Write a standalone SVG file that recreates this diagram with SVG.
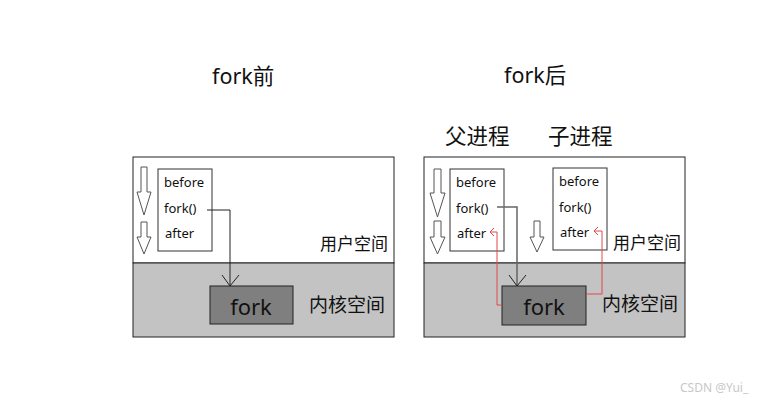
<svg xmlns="http://www.w3.org/2000/svg" width="766" height="401" viewBox="0 0 766 401">
<style>
.t{font-family:"Noto Sans","Noto Sans CJK SC",sans-serif;fill:#111}
.code{font-size:13px}
.lbl{font-size:17px}
.klbl{font-size:19px}
.title{font-size:21.5px}
.fkt{font-size:22px}
.panel{fill:#fff;stroke:#222;stroke-width:1}
.kern{fill:#c3c3c3;stroke:#222;stroke-width:1}
.box{fill:#fff;stroke:#333;stroke-width:1}
.fk{fill:#7f7f7f;stroke:#222;stroke-width:1}
.arr{fill:#fff;stroke:#555;stroke-width:1}
.ln{fill:none;stroke:#222;stroke-width:1}
.ln2{fill:none;stroke:#666;stroke-width:1.5}
.red{fill:none;stroke:#e04848;stroke-width:1}
</style>
<rect width="766" height="401" fill="#fff"/>
<g id="title-before"><text class="t title" x="212" y="84">fork前</text></g>
<g id="title-after"><text class="t title" x="504" y="83">fork后</text></g>
<g id="label-parent"><text class="t title" x="445" y="144">父进程</text></g>
<g id="label-child"><text class="t title" x="548" y="144">子进程</text></g>

<g id="panel-before">
<rect class="panel" x="133" y="157" width="261" height="106"/>
<rect class="kern" x="133" y="263" width="261" height="74"/>
<text class="t lbl" x="320" y="250">用户空间</text>
<text class="t klbl" x="309" y="312">内核空间</text>
</g>
<g id="arrows-before">
<polygon class="arr" points="141,167 147,167 147,192 151,192 144,215 137,192 141,192"/>
<polygon class="arr" points="141,222 147,222 147,237 151,237 144,254 137,237 141,237"/>
</g>
<g id="code-before">
<rect class="box" x="158" y="169" width="54" height="82"/>
<text class="t code" x="164" y="187">before</text>
<text class="t code" x="164" y="213">fork()</text>
<text class="t code" x="165" y="238">after</text>
</g>
<g id="fork-before">
<rect class="fk" x="210" y="286" width="83" height="38"/>
<text class="t fkt" x="251" y="315" text-anchor="middle">fork</text>
</g>

<g id="panel-after">
<rect class="panel" x="424" y="157" width="261" height="106"/>
<rect class="kern" x="424" y="263" width="261" height="74"/>
<text class="t lbl" x="613" y="249">用户空间</text>
<text class="t klbl" x="602" y="311">内核空间</text>
</g>
<g id="arrows-after">
<polygon class="arr" points="434,169 441,169 441,193 445,193 437.5,217 430,193 434,193"/>
<polygon class="arr" points="434,221 441,221 441,237 445,237 437.5,254 430,237 434,237"/>
<polygon class="arr" points="534,221 540,221 540,237 544,237 537,252 530,237 534,237"/>
</g>
<g id="code-parent">
<rect class="box" x="450" y="169" width="54" height="82"/>
<text class="t code" x="456" y="187">before</text>
<text class="t code" x="456" y="213">fork()</text>
<text class="t code" x="457" y="238">after</text>
</g>
<g id="code-child">
<rect class="box" x="553" y="168" width="54" height="82"/>
<text class="t code" x="559" y="186">before</text>
<text class="t code" x="559" y="212">fork()</text>
<text class="t code" x="560" y="237">after</text>
</g>
<g id="fork-after">
<rect class="fk" x="502" y="286" width="84" height="39"/>
<text class="t fkt" x="544" y="315" text-anchor="middle">fork</text>
</g>

<g id="connectors">
<polyline class="ln" points="207,210 230,210 230,286"/>
<polyline class="ln" points="222,275 230,286 239,275"/>
<polyline class="ln2" points="497,207 517,207 517,286"/>
<polyline class="ln" points="509,275 517,286 526,275"/>
<polyline class="red" points="502,305 497,305 497,232 491,232"/>
<polyline class="red" points="494,228 490,232 494,236"/>
<polyline class="red" points="586,294 602,294 602,231 595,231"/>
<polyline class="red" points="598,227 594,231 598,235"/>
</g>
<g id="watermark"><text x="680" y="392" font-family="Noto Sans, sans-serif" font-size="12" fill="#c8c8c8">CSDN @Yui_</text></g>
</svg>
